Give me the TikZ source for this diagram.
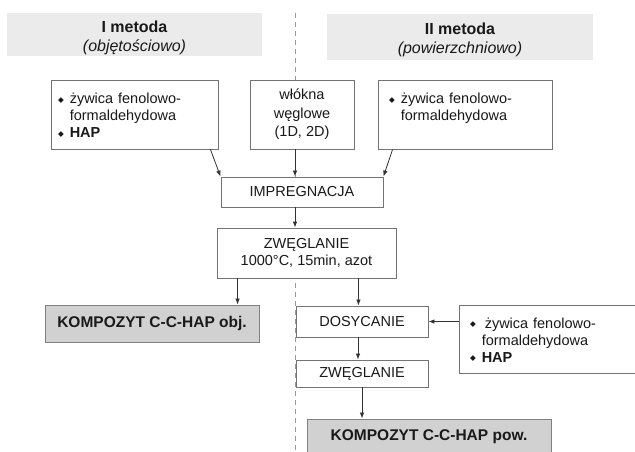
\documentclass[tikz,border=0pt]{standalone}
\usepackage{fontspec}
\setmainfont{Liberation Sans}
\newfontfamily\symfont{DejaVu Sans}
\usepackage{tikz}
\usetikzlibrary{shapes.geometric, arrows.meta, positioning}
\newcommand{\bul}{\raisebox{1.5pt}{\symfont\fontsize{7.5}{7.5}\selectfont ◆}}
\newcommand{\txt}{\fontsize{14.5}{17}\selectfont}
\tikzstyle{arrow} = [line width=0.8pt,draw=black!80,-{Latex[length=6pt,width=4.5pt]}]
\tikzstyle{divider} = [line width=0.9pt,draw=black!40,dash pattern=on 5pt off 4pt]
\tikzstyle{box}=[draw=black!55,fill=white,rectangle,inner sep=0pt,line width=0.9pt,font=\txt,text=black!90]
\tikzstyle{list}=[box,align=left,inner xsep=7pt,text height=34.5pt]
\tikzstyle{result}=[box,fill=black!18,draw=black!50,font=\fontsize{15.5}{18}\selectfont\bfseries]
\tikzstyle{header}=[fill=black!8,rectangle,inner sep=0pt,align=center,text=black!90,text height=37pt,font=\fontsize{16}{19}\selectfont]

\begin{document}
\begin{tikzpicture}[x=1pt,y=-1pt]
	\useasboundingbox (0,0) rectangle (635,452);
	\coordinate (divtop) at (295,13);
	\coordinate (divbot) at (295,452);
	\draw[divider] (divtop) -- (divbot);

	% naglowki
	\node [header, minimum width=255pt, minimum height=43pt] (hdrI) at (134.5,34.5) {\textbf{I metoda}\\\textit{(objętościowo)}};
	\node [header, minimum width=266pt, minimum height=46pt] (hdrII) at (460,37) {\textbf{II metoda}\\\textit{(powierzchniowo)}};

	% substraty
	\node [list, text width=153pt, minimum height=69pt] (resin1) at (134.5,114.5)
		{\begin{tabular}{@{}l@{\hspace{6pt}}l@{}}\bul & żywica fenolowo-\\ & formaldehydowa\\ \bul & \textbf{HAP}\end{tabular}};
	\node [box, align=center, minimum width=104pt, minimum height=69pt, font=\fontsize{14.5}{18.5}\selectfont] (fibre) at (302,114.5) {włókna\\węglowe\\(1D, 2D)};
	\node [list, inner xsep=11pt, text width=152pt, minimum height=69pt] (resin2) at (465,114.5)
		{\begin{tabular}{@{}l@{\hspace{6pt}}l@{}}\bul & żywica fenolowo-\\ & formaldehydowa\\ & \end{tabular}};

	% proces
	\node [box, minimum width=162pt, minimum height=30pt] (impreg) at (302,192) {IMPREGNACJA};
	\node [box, align=center, minimum width=179pt, minimum height=50pt] (carb1) at (306.5,253) {ZWĘGLANIE\\1000°C, 15min, azot};
	\node [result, minimum width=214pt, minimum height=37pt] (compvol) at (152,323.5) {KOMPOZYT C-C-HAP obj.};
	\node [box, minimum width=132pt, minimum height=31pt] (dosing) at (362,321.5) {DOSYCANIE};
	\node [list, inner xsep=11pt, text width=164pt, minimum height=68pt] (resin3) at (552,339)
		{\begin{tabular}{@{}l@{\hspace{6pt}}l@{}}\bul & \hspace{3pt}żywica fenolowo-\\ & formaldehydowa\\ \bul & \textbf{HAP}\end{tabular}};
	\node [box, minimum width=132pt, minimum height=27pt] (carb2) at (362,373.5) {ZWĘGLANIE};
	\node [result, minimum width=244pt, minimum height=36pt] (compsurf) at (429,437) {KOMPOZYT C-C-HAP pow.};

	\draw[arrow] ([xshift=-8pt]resin1.south east) -- (impreg.north west);
	\draw[arrow] (fibre.south -| divtop) -- (impreg.north -| divtop);
	\draw[arrow] ([xshift=15pt]resin2.south west) -- (impreg.north east);
	\draw[arrow] (impreg.south -| divtop) -- (carb1.north -| divtop);
	\draw[arrow] ([xshift=21pt]carb1.south west) -- ([xshift=21pt]carb1.south west |- compvol.north);
	\draw[arrow] ([xshift=-38pt]carb1.south east) -- ([xshift=-38pt]carb1.south east |- dosing.north);
	\draw[arrow] (dosing.east -| resin3.west) -- (dosing.east);
	\draw[arrow] ([xshift=-4pt]dosing.south) -- ([xshift=-4pt]carb2.north);
	\draw[arrow] (carb2.south) -- (carb2.south |- compsurf.north);
\end{tikzpicture}
\end{document}
